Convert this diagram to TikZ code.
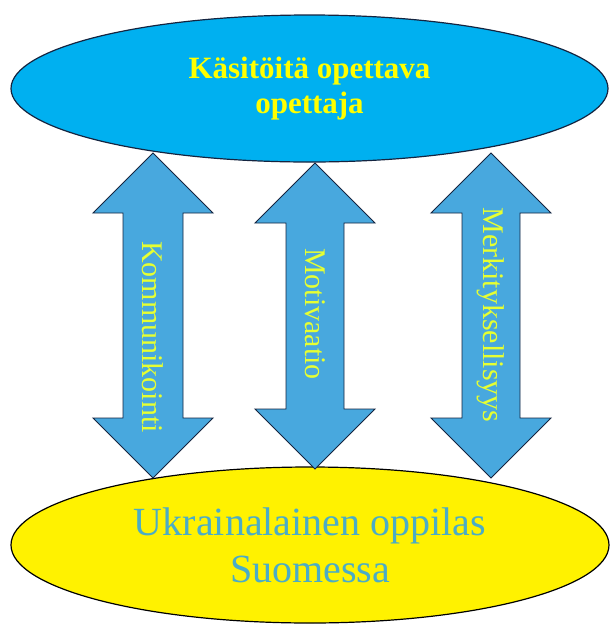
\documentclass[tikz,border=0pt]{standalone}
\usepackage{fontspec}
\setmainfont{Liberation Serif}
\usetikzlibrary{shapes.geometric}

\definecolor{ovalblue}{RGB}{0,176,240}
\definecolor{arrowblue}{RGB}{72,168,222}
\definecolor{edgenavy}{RGB}{20,36,64}
\definecolor{titleyellow}{RGB}{255,255,0}
\definecolor{labelyellow}{RGB}{230,255,50}
\definecolor{pupilteal}{RGB}{75,172,198}

\begin{document}
\begin{tikzpicture}[
    x=1pt, y=-1pt,
    oval/.style={ellipse, draw=edgenavy, line width=1.2pt, inner sep=0pt, align=center},
    block_arrow/.style={draw=edgenavy, line width=0.9pt, fill=arrowblue, line join=miter},
    arrow_label/.style={rotate=-90, font=\fontsize{30}{30}\selectfont, text=labelyellow, inner sep=0pt}
]
\useasboundingbox (0,0) rectangle (611,625);

% ==========================
% OPETTAJA (ylhaalla)
% ==========================
\node[oval, fill=ovalblue, minimum width=597pt, minimum height=147pt,
      font=\bfseries\fontsize{31}{35}\selectfont, text=titleyellow] (teacher) at (309.5,88.5)
      {Käsitöitä opettava\\opettaja};

% ==========================
% OPPILAS (alhaalla)
% ==========================
\node[oval, fill=yellow, draw=black, minimum width=598pt, minimum height=156pt,
      font=\fontsize{40}{47}\selectfont, text=pupilteal] (pupil) at (310,545)
      {Ukrainalainen oppilas\\Suomessa};

% ==========================
% NUOLET (kaksipaiset)
% ==========================
\def\head{60}
\foreach \n/\x/\t/\b/\s/\ty/\txt in {
    kom/153/153/478/30/337/Kommunikointi,
    mot/315/163/469/29/314/Motivaatio,
    mer/491/153/478/29/315/Merkityksellisyys
} {
    \coordinate (tip-\n-top) at (\x,\t);
    \coordinate (tip-\n-bot) at (\x,\b);
    \draw[block_arrow] (tip-\n-top) -- ++(\head,\head) -- ++(-\head+\s,0)
        -- (\x+\s,\b-\head) -- ++(\head-\s,0) -- (tip-\n-bot)
        -- ++(-\head,-\head) -- ++(\head-\s,0)
        -- (\x-\s,\t+\head) -- ++(-\head+\s,0) -- cycle;
    \node[arrow_label] (lbl-\n) at (\x,\ty) {\txt};
}

\end{tikzpicture}
\end{document}
